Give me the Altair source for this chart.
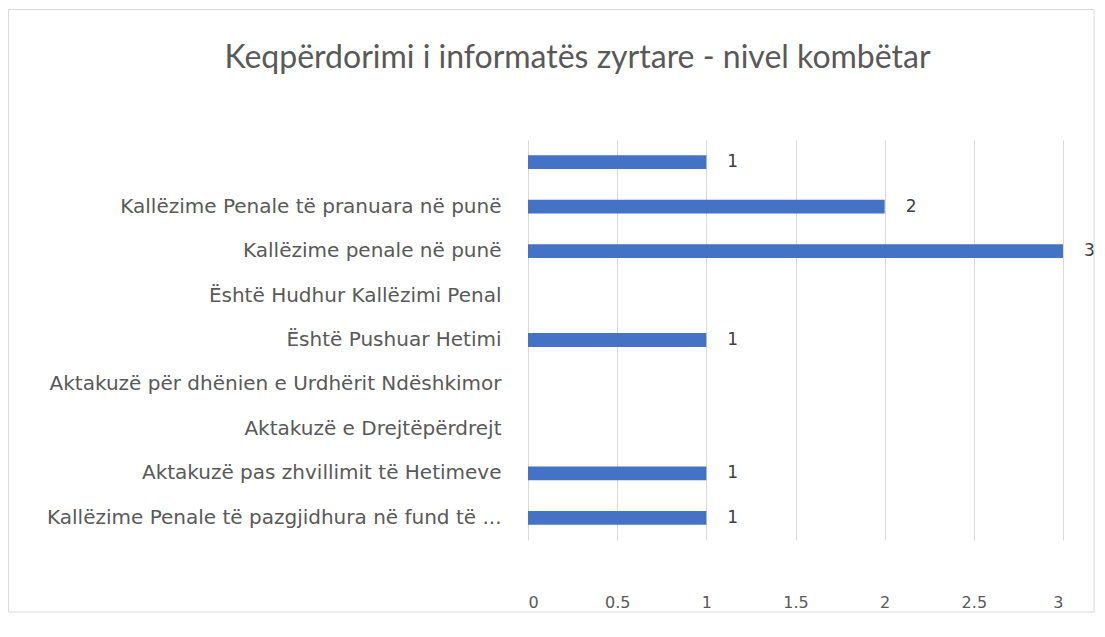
import altair as alt
import pandas as pd

categories = [
    "",
    "Kallëzime Penale të pranuara në punë",
    "Kallëzime penale në punë",
    "Është Hudhur Kallëzimi Penal",
    "Është Pushuar Hetimi",
    "Aktakuzë për dhënien e Urdhërit Ndëshkimor",
    "Aktakuzë e Drejtëpërdrejt",
    "Aktakuzë pas zhvillimit të Hetimeve",
    "Kallëzime Penale të pazgjidhura në fund të ...",
]
values = [1, 2, 3, None, 1, None, None, 1, 1]
x_ticks = [0, 0.5, 1, 1.5, 2, 2.5, 3]

df = pd.DataFrame({"cat": categories, "val": values})

FONT = "DejaVu Sans"
GRAY = "#595959"

y_enc = alt.Y(
    "cat:N",
    sort=categories,
    scale=alt.Scale(domain=categories, paddingInner=0.69, paddingOuter=0.345),
    axis=alt.Axis(
        title=None, ticks=False, domain=False, labelPadding=27,
        labelLimit=700, labelFont=FONT, labelFontSize=20, labelColor=GRAY,
        minExtent=520, maxExtent=520,
    ),
)
x_enc = alt.X(
    "val:Q",
    scale=alt.Scale(domain=[0, 3], nice=False),
    axis=alt.Axis(
        title=None, values=x_ticks, ticks=False, domain=False,
        labelPadding=54, labelFont=FONT, labelFontSize=16, labelColor=GRAY,
        grid=True, gridColor="#d9d9d9", gridWidth=1,
        labelExpr="datum.value",
    ),
)

frame = alt.Chart(pd.DataFrame({"f": [0]})).mark_rect(
    fill=None, stroke="#d9d9d9", strokeWidth=1
).encode(
    x=alt.value(-519.5), x2=alt.value(566), y=alt.value(-130.5), y2=alt.value(472)
)

bars = alt.Chart(df).mark_bar(color="#4472C4").encode(y=y_enc, x=x_enc)
labels = alt.Chart(df).mark_text(
    align="left", baseline="middle", dx=21, font=FONT, fontSize=17, color="#404040"
).encode(y=alt.Y("cat:N", sort=categories), x="val:Q", text="val:Q")

chart = alt.layer(frame, bars, labels).properties(
    width=535,
    height=400,
    padding={"left": 520, "top": 132, "right": 32, "bottom": 73},
    autosize=alt.AutoSizeParams(type="none"),
    title=alt.TitleParams(
        "Keqpërdorimi i informatës zyrtare - nivel kombëtar",
        font="Lato", fontSize=32, fontWeight="normal", color=GRAY,
        anchor="middle", dx=-218, offset=-91, baseline="alphabetic",
    ),
).configure_view(stroke=None)

chart.save("out.html", embed_options={"renderer": "svg", "actions": False})
